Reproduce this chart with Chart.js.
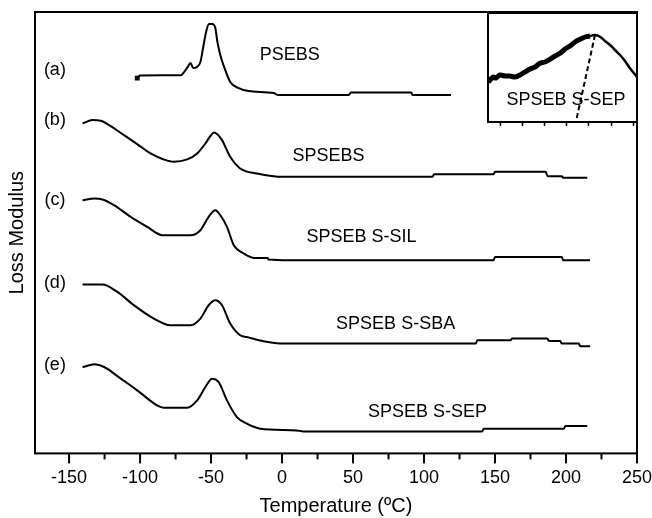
<!DOCTYPE html>
<html>
<head>
<meta charset="utf-8">
<script src="https://cdn.jsdelivr.net/npm/chart.js@4.4.0/dist/chart.umd.min.js"></script>
<style>
  body { margin: 0; background: #fff; }
  #wrap { position: relative; width: 652px; height: 518px; }
  #main { position: absolute; left: 0; top: 0; }
  #inset { position: absolute; left: 487px; top: 12px; }
</style>
</head>
<body>
<div id="wrap">
  <canvas id="main" width="652" height="518"></canvas>
  <canvas id="inset" width="151" height="114"></canvas>
</div>
<script>
// curve (a) PSEBS
var tempA = [-102, -100, -85, -71.5, -69, -66.5, -64.5, -62.5, -60, -57.5, -55.5, -53.5, -51.5, -49, -47, -45.5, -43.5, -40.5, -36.5, -30.5, -23.5, -6, -2.5, 47, 48.5, 91, 92, 119];
var lossA = [375, 377.5, 377.7, 377.7, 381, 386, 390, 385, 386, 391, 406, 421, 429, 429, 425, 411, 398, 385, 371, 365, 362, 360, 358, 358, 360.5, 360.5, 358, 358];
// curve (b) SPSEBS
var tempB = [-140.5, -133.5, -127.7, -120.7, -111.3, -102, -92.6, -83.3, -76.2, -66.8, -59.8, -54, -50.5, -48, -45.8, -42.3, -36.5, -29.5, -17.7, 1, 106, 107, 149, 150, 185.7, 187, 197, 198, 215];
var lossB = [329.7, 333, 332.3, 327, 318, 309, 299.7, 293.7, 291.3, 293.7, 299.7, 309.7, 317, 320.5, 319, 313, 296.3, 284.7, 279.7, 276.3, 276.3, 279, 279, 281.3, 281.3, 277, 277, 275.3, 275.3];
// curve (c) SPSEB S-SIL
var tempC = [-140.5, -132, -126.5, -118.4, -106.6, -94.9, -84.4, -64.5, -57.5, -51.7, -47, -43.5, -38.8, -34, -27, -20, -10, -9.6, 5.6, 149, 150, 197, 198, 217];
var lossC = [253, 254.7, 253.7, 248, 236.3, 226.3, 218, 218, 223, 236.3, 243, 238, 226.3, 208, 199.7, 195.3, 195.3, 193.7, 193, 193, 196.3, 196.3, 193, 193];
// curve (d) SPSEB S-SBA
var tempD = [-140.5, -126.5, -116, -104.3, -90.3, -78.6, -64.5, -57.5, -51.7, -47, -42.3, -36.5, -29.5, -24.8, -13, 1, 136.5, 137.5, 161, 162, 186.8, 188, 196, 197, 209, 210, 217];
var lossD = [168.7, 168.7, 161.3, 148, 134.7, 128, 128, 134.7, 148, 153, 148, 129.7, 118, 116.3, 112, 109.7, 109.7, 113, 113, 114.7, 114.7, 112.3, 112.3, 109.7, 109.7, 107, 107];
// curve (e) SPSEB S-SEP
var tempE = [-140.5, -132, -125.3, -113.6, -102, -88, -83.3, -66.8, -59.8, -54, -49.3, -44.6, -38.8, -31.8, -24.8, -15.4, 10.3, 15, 141, 142, 198.5, 199.5, 215];
var lossE = [86.3, 89, 86.3, 74.7, 63, 48, 45.7, 45.7, 53, 66.3, 74.7, 71.3, 53, 36.3, 29.7, 24.7, 23, 22, 22, 24.7, 24.7, 27.3, 27.3];

// inset (arbitrary units)
var insetX = [1.3, 4, 6.3, 9, 13, 18, 23, 28, 33, 38, 43, 48, 53, 58, 63, 68, 73, 78, 83, 88, 93, 98, 103, 108, 113, 118, 123, 128, 133, 138, 143, 149.7];
var insetY = [40, 43, 45, 44, 47, 46, 46, 45, 47, 50, 53, 55, 58.7, 60, 62.7, 66, 68.7, 73, 76, 80, 82.7, 85, 86, 87, 85.3, 81, 77, 72, 67, 61, 53.7, 45.3];
var insetDashX = [108, 89.7];
var insetDashY = [87, 3.7];
var insetTicks = [13, 35.2, 57.4, 79.6, 101.8, 124, 146.2];

var xTicks = [-150, -125, -100, -75, -50, -25, 0, 25, 50, 75, 100, 125, 150, 175, 200, 225, 250];
var curveLetters = ['(a)', '(b)', '(c)', '(d)', '(e)'];
var curveNames = ['PSEBS', 'SPSEBS', 'SPSEB S-SIL', 'SPSEB S-SBA', 'SPSEB S-SEP'];

// where the texts sit, in axis units
var letterSpots = [[-160, 383], [-160, 333], [-160, 253], [-160, 170], [-160, 88]];
var nameSpots = [[5.4, 398.5], [32.8, 297], [55.9, 216.3], [80, 129.7], [102.4, 41.3]];

Chart.defaults.color = '#000';
Chart.defaults.font.family = '"Liberation Sans", Arial, sans-serif';

function pts(xs, ys) {
  return xs.map(function (x, i) { return { x: x, y: ys[i] }; });
}

function curve(xs, ys) {
  return {
    data: pts(xs, ys),
    borderColor: '#000',
    borderWidth: 2,
    pointRadius: 0,
    cubicInterpolationMode: 'monotone',
    fill: false
  };
}

var mainDecor = {
  id: 'mainDecor',
  afterDraw: function (chart) {
    var ctx = chart.ctx;
    var a = chart.chartArea;
    var sx = chart.scales.x;
    var sy = chart.scales.y;
    ctx.save();
    ctx.strokeStyle = '#000';
    ctx.lineWidth = 2;
    ctx.strokeRect(a.left, a.top, a.right - a.left, a.bottom - a.top);
    xTicks.forEach(function (v) {
      var px = sx.getPixelForValue(v);
      ctx.beginPath();
      ctx.moveTo(px, a.bottom);
      ctx.lineTo(px, a.bottom + (v % 50 === 0 ? 10 : 6));
      ctx.stroke();
    });
    ctx.fillStyle = '#000';
    ctx.textAlign = 'center';
    ctx.textBaseline = 'middle';
    ctx.font = '18px "Liberation Sans", Arial, sans-serif';
    curveLetters.forEach(function (t, i) {
      ctx.fillText(t, sx.getPixelForValue(letterSpots[i][0]), sy.getPixelForValue(letterSpots[i][1]));
    });
    curveNames.forEach(function (t, i) {
      ctx.fillText(t, sx.getPixelForValue(nameSpots[i][0]), sy.getPixelForValue(nameSpots[i][1]));
    });
    ctx.restore();
  }
};

var dsA = curve(tempA, lossA);
dsA.pointRadius = function (c) { return c.dataIndex === 0 ? 2 : 0; };
dsA.pointStyle = 'rect';
dsA.pointBackgroundColor = '#000';

new Chart(document.getElementById('main'), {
  type: 'line',
  data: {
    datasets: [dsA, curve(tempB, lossB), curve(tempC, lossC), curve(tempD, lossD), curve(tempE, lossE)]
  },
  options: {
    responsive: false,
    animation: false,
    layout: { padding: { left: 5, top: 12, right: 0, bottom: 0 } },
    plugins: { legend: { display: false }, tooltip: { enabled: false } },
    scales: {
      x: {
        type: 'linear',
        min: -174,
        max: 250,
        afterBuildTicks: function (s) { s.ticks = xTicks.map(function (v) { return { value: v }; }); },
        ticks: {
          autoSkip: false,
          maxRotation: 0,
          padding: 0,
          font: { size: 18 },
          callback: function (v) { return v % 50 === 0 ? String(v) : ''; }
        },
        grid: { display: true, drawOnChartArea: false, drawTicks: true, tickLength: 14, tickColor: 'rgba(0,0,0,0)' },
        border: { display: false },
        title: { display: true, text: 'Temperature (ºC)', font: { size: 20 }, padding: { top: 5, bottom: 0 } }
      },
      y: {
        type: 'linear',
        min: 0,
        max: 441,
        ticks: { display: false },
        grid: { display: false, drawTicks: false },
        border: { display: false },
        title: { display: true, text: 'Loss Modulus', font: { size: 20 }, padding: { top: 0, bottom: 6 } }
      }
    }
  },
  plugins: [mainDecor]
});

var insetDecor = {
  id: 'insetDecor',
  beforeDatasetsDraw: function (chart) {
    var ctx = chart.ctx;
    var a = chart.chartArea;
    ctx.save();
    ctx.fillStyle = '#fff';
    ctx.fillRect(a.left, a.top, a.right - a.left, a.bottom - a.top);
    ctx.fillStyle = '#000';
    ctx.textAlign = 'center';
    ctx.textBaseline = 'middle';
    ctx.font = '18px "Liberation Sans", Arial, sans-serif';
    ctx.fillText(curveNames[4], chart.scales.x.getPixelForValue(79), chart.scales.y.getPixelForValue(22));
    ctx.restore();
  },
  afterDraw: function (chart) {
    var ctx = chart.ctx;
    var a = chart.chartArea;
    ctx.save();
    ctx.strokeStyle = '#000';
    ctx.lineWidth = 2;
    ctx.strokeRect(a.left + 1, a.top + 1, a.right - a.left - 2, a.bottom - a.top - 1);
    ctx.restore();
  }
};

new Chart(document.getElementById('inset'), {
  type: 'line',
  data: {
    datasets: [
      {
        data: pts(insetX, insetY),
        borderColor: '#000',
        borderWidth: 2.5,
        pointRadius: 0,
        tension: 0.3,
        segment: { borderWidth: function (c) { return c.p0.parsed.x < 100 ? 5 : 2.5; } }
      },
      {
        data: pts(insetDashX, insetDashY),
        borderColor: '#000',
        borderWidth: 2,
        borderDash: [5, 3],
        pointRadius: 0
      }
    ]
  },
  options: {
    responsive: false,
    animation: false,
    layout: { padding: 0 },
    plugins: { legend: { display: false }, tooltip: { enabled: false } },
    scales: {
      x: {
        type: 'linear',
        min: 0,
        max: 151,
        afterBuildTicks: function (s) { s.ticks = insetTicks.map(function (v) { return { value: v }; }); },
        ticks: { display: false },
        grid: { display: true, drawOnChartArea: false, drawTicks: true, tickLength: 4, tickWidth: 1.5, color: '#000' },
        border: { display: false }
      },
      y: { type: 'linear', min: 0, max: 110, display: false }
    }
  },
  plugins: [insetDecor]
});
</script>
</body>
</html>
